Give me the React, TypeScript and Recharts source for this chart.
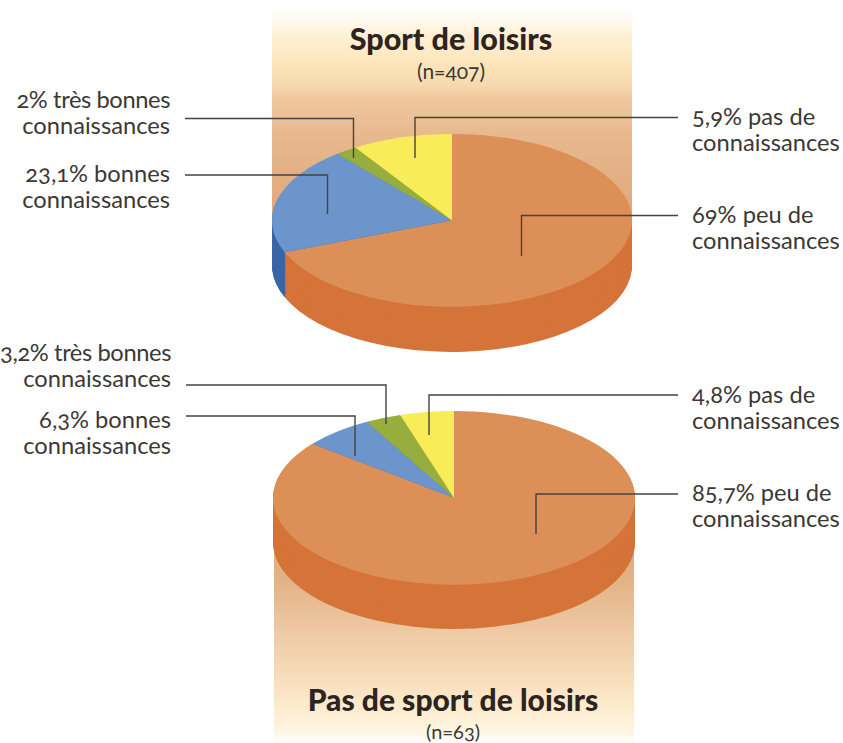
import { PieChart, Pie, Cell } from 'recharts'

// Shares of each slice, in drawing order (clockwise from 12 o'clock).
const SEGMENTS = ['peu de connaissances', 'bonnes connaissances', 'très bonnes connaissances', 'pas de connaissances']
// The printed top pie does not follow its labels: yellow is drawn near 9% and blue near 20%
const SPORT_SHARES = [69, 20, 2, 9]
const NO_SPORT_SHARES = [85.7, 6.3, 3.2, 4.8]

const TOP_COLORS = ['#dc9058', '#6c95cc', '#97ae3e', '#f8ec58']
const SIDE_COLORS = ['#d5743a', '#3a66a8', '#7a9030', '#d8cc40']

const SPORT_TITLE = 'Sport de loisirs'
const SPORT_N = '(n=407)'
const NO_SPORT_TITLE = 'Pas de sport de loisirs'
const NO_SPORT_N = '(n=63)'

const LABEL_FONT = 'Lato, "Noto Sans", sans-serif'
const LINE_COLOR = '#47423e'
const TEXT_COLOR = '#3c3835'

const SQUASH = 0.48

function Slab({ left, top, rx, depth, shares }: { left: number; top: number; rx: number; depth: number; shares: number[] }) {
  const data = SEGMENTS.map((name, i) => ({ name, value: shares[i] }))
  const depthUnits = Math.round(depth / SQUASH)
  const offsets = Array.from({ length: Math.ceil(depthUnits / 2) + 1 }, (_, i) => depthUnits - i * 2).filter((o) => o > 0)
  const size = rx * 2 + 4
  return (
    <div style={{ position: 'absolute', left, top, transform: `scaleY(${SQUASH})`, transformOrigin: 'top left' }}>
      <PieChart width={size} height={size + depthUnits} margin={{ top: 0, right: 0, bottom: 0, left: 0 }} accessibilityLayer={false}>
        {offsets.map((o) => (
          <Pie
            key={o}
            data={data}
            dataKey="value"
            cx={rx + 2}
            cy={rx + 2 + o}
            outerRadius={rx}
            startAngle={90}
            endAngle={-270}
            stroke="none"
            isAnimationActive={false}
          >
            {data.map((_, i) => (
              <Cell key={i} fill={SIDE_COLORS[i]} />
            ))}
          </Pie>
        ))}
        <Pie
          data={data}
          dataKey="value"
          cx={rx + 2}
          cy={rx + 2}
          outerRadius={rx}
          startAngle={90}
          endAngle={-270}
          stroke="none"
          isAnimationActive={false}
        >
          {data.map((_, i) => (
            <Cell key={i} fill={TOP_COLORS[i]} />
          ))}
        </Pie>
      </PieChart>
    </div>
  )
}

function Label({ x, y, anchor, lines, tight }: { x: number; y: number; anchor: 'start' | 'end'; lines: string[]; tight?: boolean }) {
  return (
    <text
      x={x}
      y={y}
      textAnchor={anchor}
      fontFamily={LABEL_FONT}
      fontSize={23.7}
      fill={TEXT_COLOR}
      style={{ fontFeatureSettings: '"onum"' }}
    >
      {lines.map((l, i) => (
        <tspan key={i} x={x} dy={i === 0 ? 0 : 26} letterSpacing={tight && i === 0 ? -0.4 : 0}>
          {l}
        </tspan>
      ))}
    </text>
  )
}

function Leader({ points }: { points: string }) {
  return <polyline points={points} fill="none" stroke={LINE_COLOR} strokeWidth={1.4} />
}

export default function App() {
  return (
    <div style={{ position: 'absolute', left: 0, top: 0, width: 843, height: 743, background: '#fff', overflow: 'hidden' }}>
      {/* Peach bands behind the pies */}
      <div
        style={{
          position: 'absolute',
          left: 272,
          top: 6,
          width: 360,
          height: 244,
          background:
            'linear-gradient(to bottom, #ffffff 0px, #fffaf0 14px, #fff0d4 30px, #fde6bc 56px, #f9dab0 78px, #f0c8a0 92px, #e8b88e 130px, #d9a273 244px)',
        }}
      />
      <div
        style={{
          position: 'absolute',
          left: 274,
          top: 500,
          width: 360,
          height: 243,
          background:
            'linear-gradient(to bottom, #dca878 0px, #e2b184 77px, #efcba6 136px, #f6dab6 170px, #fbe8c8 200px, #fff5e0 230px, #ffffff 243px)',
        }}
      />

      <Slab left={270} top={133} rx={180} depth={45} shares={SPORT_SHARES} />
      <Slab left={271} top={410} rx={181} depth={44} shares={NO_SPORT_SHARES} />

      <svg width={843} height={743} style={{ position: 'absolute', left: 0, top: 0 }}>
        <text x={451} y={50} textAnchor="middle" fontFamily={LABEL_FONT} fontWeight={900} fontSize={30.5} fill="#2e241f">
          {SPORT_TITLE}
        </text>
        <text x={451} y={79} textAnchor="middle" fontFamily={LABEL_FONT} fontSize={21} fill={TEXT_COLOR} style={{ fontFeatureSettings: '"onum"' }}>
          {SPORT_N}
        </text>
        <text x={453} y={711} textAnchor="middle" fontFamily={LABEL_FONT} fontWeight={900} fontSize={30} fill="#2e241f">
          {NO_SPORT_TITLE}
        </text>
        <text x={453} y={739} textAnchor="middle" fontFamily={LABEL_FONT} fontSize={20} fill={TEXT_COLOR} style={{ fontFeatureSettings: '"onum"' }}>
          {NO_SPORT_N}
        </text>

        <Label x={170} y={108} anchor="end" lines={['2% très bonnes', 'connaissances']} tight />
        <Label x={170} y={182} anchor="end" lines={['23,1% bonnes', 'connaissances']} />
        <Label x={692} y={125} anchor="start" lines={['5,9% pas de', 'connaissances']} />
        <Label x={692} y={223} anchor="start" lines={['69% peu de', 'connaissances']} />

        <Label x={171} y={361} anchor="end" lines={['3,2% très bonnes', 'connaissances']} tight />
        <Label x={171} y={428} anchor="end" lines={['6,3% bonnes', 'connaissances']} />
        <Label x={692} y={403} anchor="start" lines={['4,8% pas de', 'connaissances']} />
        <Label x={692} y={501} anchor="start" lines={['85,7%  peu de', 'connaissances']} />

        <Leader points="185,118.5 353.5,118.5 353.5,158" />
        <Leader points="185,175 327.5,175 327.5,214" />
        <Leader points="678,117.5 415,117.5 415,158" />
        <Leader points="678,215.5 521.5,215.5 521.5,256" />

        <Leader points="186,385 386,385 386,424" />
        <Leader points="186,416 355,416 355,456" />
        <Leader points="678,395 429,395 429,435" />
        <Leader points="678,494 536,494 536,534" />
      </svg>
    </div>
  )
}
